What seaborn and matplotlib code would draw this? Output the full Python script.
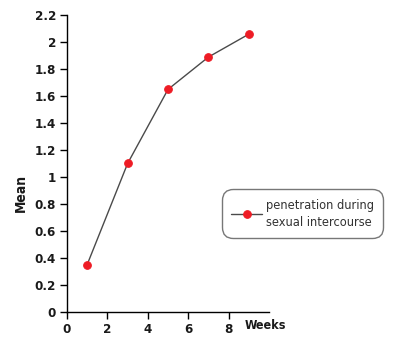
import matplotlib
matplotlib.use("Agg")
import matplotlib.pyplot as plt
import seaborn as sns
import pandas as pd
from matplotlib.ticker import FuncFormatter

weeks = [1, 3, 5, 7, 9]
means = [0.35, 1.10, 1.65, 1.89, 2.06]
series_label = "penetration during\nsexual intercourse"
x_ticks = [0, 2, 4, 6, 8]
y_ticks = [0, 0.2, 0.4, 0.6, 0.8, 1.0, 1.2, 1.4, 1.6, 1.8, 2.0, 2.2]

sns.set_style("white")
plt.rcParams['font.family'] = ['DejaVu Sans']
plt.rcParams['font.stretch'] = 'condensed'

df = pd.DataFrame({"Weeks": weeks, "Mean": means})

fig = plt.figure(figsize=(4.0, 3.41), dpi=100)
ax = fig.add_axes([67/400, 1-311.7/341, 202/400, (311.7-15.3)/341])

sns.lineplot(data=df, x="Weeks", y="Mean", ax=ax, color="#4a4a4a", linewidth=1.0,
             marker="o", markersize=5.5, markerfacecolor="#ee1c25", markeredgecolor="#ee1c25",
             label=series_label)

ax.set_xlim(0, 10)
ax.set_ylim(0, 2.2)
ax.set_xticks(x_ticks)
ax.set_yticks(y_ticks)
ax.yaxis.set_major_formatter(FuncFormatter(lambda v, p: f"{v:g}"))
for s in ["top", "right"]:
    ax.spines[s].set_visible(False)
for s in ["left", "bottom"]:
    ax.spines[s].set_color("black")
    ax.spines[s].set_linewidth(1.0)
ax.tick_params(axis="both", which="major", direction="out", length=5, width=1,
               color="black", labelsize=9.5, labelcolor="#1a1a1a", pad=3, left=True, bottom=True)

fig.canvas.draw()
plt.setp(ax.get_xticklabels() + ax.get_yticklabels(), fontweight="bold", fontstretch="condensed")

ax.set_xlabel("Weeks", fontsize=9, fontweight="bold", color="#1a1a1a")
ax.xaxis.set_label_coords(0.98, -0.047)
ax.xaxis.label.set_va("center")
ax.set_ylabel("Mean", fontsize=10, fontweight="bold", color="#1a1a1a")
ax.yaxis.set_label_coords(-0.195, 0.40)

leg = ax.legend(loc="center", bbox_to_anchor=(302.5/400, 1-213.5/341),
                bbox_transform=fig.transFigure, frameon=True, fancybox=True,
                fontsize=9.2, handlelength=2.4, borderpad=0.75, labelspacing=0.2,
                handletextpad=0.3)
frame = leg.get_frame()
frame.set_edgecolor("#555555")
frame.set_linewidth(1.0)
frame.set_boxstyle("round,pad=0.0,rounding_size=0.9")
for t in leg.get_texts():
    t.set_color("#333333")
    t.set_linespacing(1.4)
    t.set_fontstretch("condensed")

fig.savefig("out.png", dpi=100)
